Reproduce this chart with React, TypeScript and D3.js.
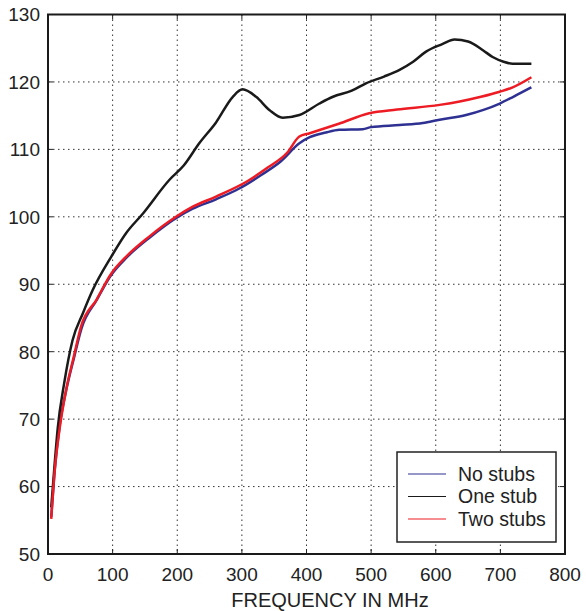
import React from "react";
import { scaleLinear, line, curveMonotoneX } from "d3";

// frequency (MHz) and level readings for each case
const noStubsFreq = [5, 10, 18, 28, 40, 52, 75, 98, 121, 157, 198, 224, 260, 296, 330, 360, 389, 405, 430, 451, 487, 500, 544, 580, 606, 647, 675, 699, 720, 748];
const noStubsVal = [55.5, 62, 69, 74.2, 79, 83.5, 87.6, 91.4, 93.9, 96.9, 99.8, 101.2, 102.6, 104.2, 106.2, 108.2, 110.9, 111.8, 112.5, 112.9, 113.0, 113.3, 113.6, 113.9, 114.4, 115.1, 115.9, 116.8, 117.8, 119.2];

const oneStubFreq = [5, 10, 15, 25, 38, 54, 69, 98, 121, 147, 188, 210, 234, 260, 286, 301, 322, 343, 363, 389, 420, 441, 470, 492, 520, 544, 565, 585, 610, 629, 650, 673, 688, 705, 719, 748];
const oneStubVal = [56.9, 63, 68.6, 75.3, 81.7, 85.7, 89.1, 94.1, 97.6, 100.5, 105.5, 107.6, 110.9, 114, 117.8, 118.9, 117.8, 115.8, 114.7, 115.1, 116.8, 117.8, 118.7, 119.8, 120.8, 121.8, 123, 124.5, 125.6, 126.3, 126.0, 124.7, 123.7, 123, 122.7, 122.7];

const twoStubsFreq = [5, 10, 18, 28, 40, 51, 75, 98, 121, 157, 198, 224, 260, 307, 340, 370, 389, 405, 450, 497, 540, 606, 637, 670, 699, 719, 748];
const twoStubsVal = [55.2, 62, 68.6, 74.3, 79.3, 83.7, 87.7, 91.6, 94.1, 97.1, 100.0, 101.5, 103, 105.2, 107.3, 109.5, 111.9, 112.4, 113.8, 115.35, 115.9, 116.6, 117.1, 117.8, 118.55, 119.2, 120.7];

const xTicks = [0, 100, 200, 300, 400, 500, 600, 700, 800];
const yTicks = [50, 60, 70, 80, 90, 100, 110, 120, 130];

const seriesNames = ["No stubs", "One stub", "Two stubs"];
const seriesColors = ["#2e3192", "#1a1a1a", "#ed1c24"];

export default function App() {
  const width = 586;
  const height = 611;
  const left = 48, right = 565, top = 14.5, bottom = 554;

  const x = scaleLinear().domain([0, 800]).range([left, right]);
  const y = scaleLinear().domain([50, 130]).range([bottom, top]);

  const makeLine = (fs: number[], vs: number[]) =>
    line<number>()
      .x((d) => x(d))
      .y((_, i) => y(vs[i]))
      .curve(curveMonotoneX)(fs) as string;

  const series = [
    { freq: noStubsFreq, val: noStubsVal, color: seriesColors[0] },
    { freq: oneStubFreq, val: oneStubVal, color: seriesColors[1] },
    { freq: twoStubsFreq, val: twoStubsVal, color: seriesColors[2] },
  ];

  const font = "'Liberation Sans', Arial, sans-serif";
  const tickLen = 5;

  // legend box
  const lg = { x: 397, y: 452, w: 159, h: 90 };

  return (
    <svg width={width} height={height} style={{ position: "absolute", left: 0, top: 0, background: "#fff" }}>
      {/* grid */}
      {xTicks.slice(1, -1).map((t) => (
        <line key={"gx" + t} x1={x(t)} x2={x(t)} y1={top} y2={bottom} stroke="#333" strokeWidth={1} strokeDasharray="1.5 3.5" />
      ))}
      {yTicks.slice(1, -1).map((t) => (
        <line key={"gy" + t} x1={left} x2={right} y1={y(t)} y2={y(t)} stroke="#333" strokeWidth={1} strokeDasharray="1.5 3.5" />
      ))}

      {/* inward ticks on all sides */}
      {xTicks.map((t) => (
        <g key={"tx" + t}>
          <line x1={x(t)} x2={x(t)} y1={bottom} y2={bottom - tickLen} stroke="#222" strokeWidth={1} />
          <line x1={x(t)} x2={x(t)} y1={top} y2={top + tickLen} stroke="#222" strokeWidth={1} />
        </g>
      ))}
      {yTicks.map((t) => (
        <g key={"ty" + t}>
          <line x1={left} x2={left + tickLen} y1={y(t)} y2={y(t)} stroke="#222" strokeWidth={1} />
          <line x1={right} x2={right - tickLen} y1={y(t)} y2={y(t)} stroke="#222" strokeWidth={1} />
        </g>
      ))}

      {/* curves */}
      {series.map((s, i) => (
        <path key={i} d={makeLine(s.freq, s.val)} fill="none" stroke={s.color} strokeWidth={2.5} strokeLinejoin="round" />
      ))}

      {/* frame */}
      <rect x={left} y={top} width={right - left} height={bottom - top} fill="none" stroke="#1a1a1a" strokeWidth={2} />

      {/* tick labels */}
      {xTicks.map((t) => (
        <text key={"lx" + t} x={x(t)} y={581} textAnchor="middle" fontFamily={font} fontSize={19} fill="#222">{t}</text>
      ))}
      {yTicks.map((t) => (
        <text key={"ly" + t} x={40} y={y(t)} dy="0.36em" textAnchor="end" fontFamily={font} fontSize={19} fill="#222">{t}</text>
      ))}

      <text x={330} y={607} textAnchor="middle" fontFamily={font} fontSize={20} fill="#222">FREQUENCY IN MHz</text>

      {/* legend */}
      <rect x={lg.x} y={lg.y} width={lg.w} height={lg.h} fill="#fff" stroke="#222" strokeWidth={1.5} />
      {seriesNames.map((n, i) => (
        <g key={n} transform={`translate(0, ${474 + i * 22.5})`}>
          <line x1={408} x2={446} y1={0} y2={0} stroke={seriesColors[i]} strokeWidth={1.2} />
          <text x={458} y={0} dy="0.35em" fontFamily={font} fontSize={19.5} fill="#222">{n}</text>
        </g>
      ))}
    </svg>
  );
}
